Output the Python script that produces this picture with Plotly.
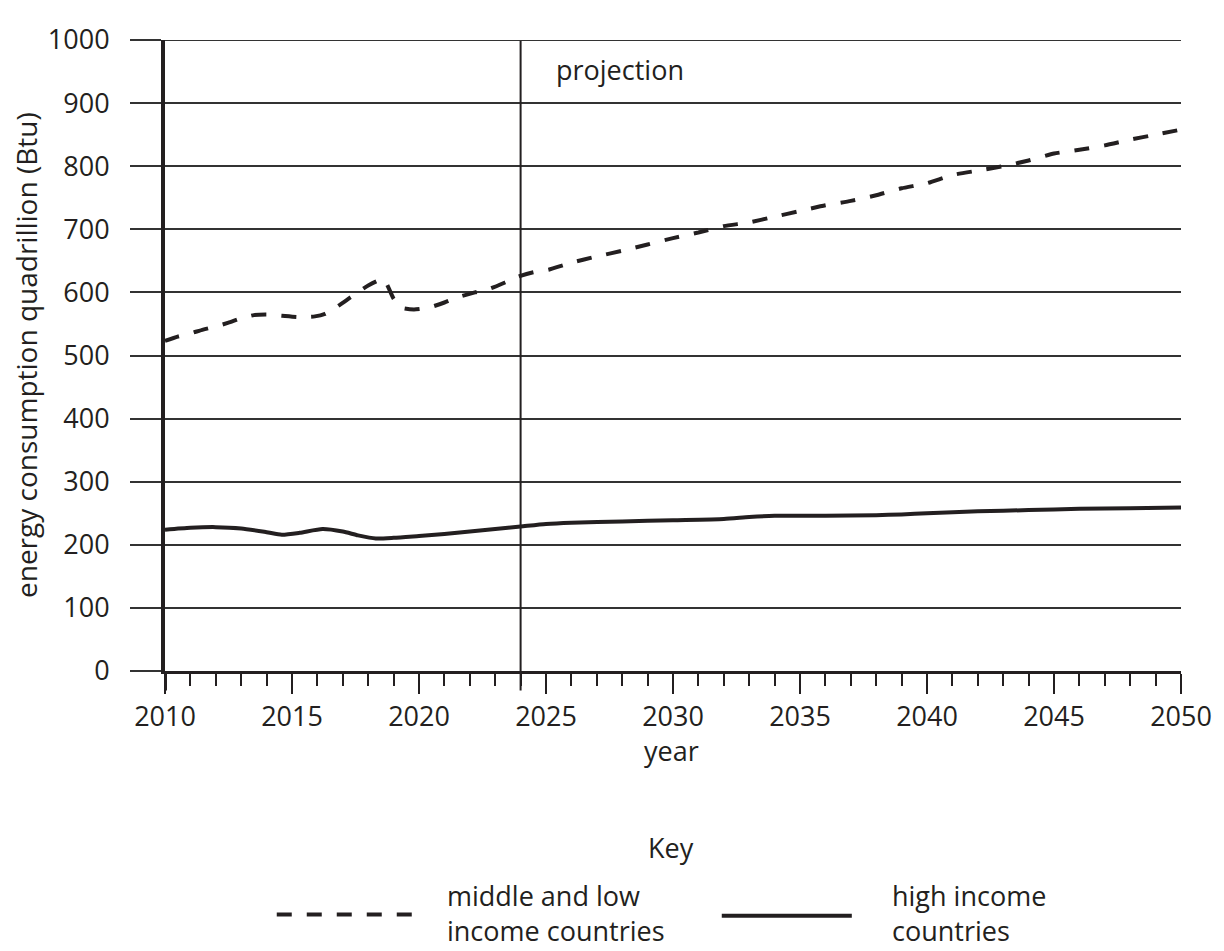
import plotly.graph_objects as go

# ---- data ----
mid_low_years = [2010, 2010.5, 2011, 2011.5, 2012, 2012.5, 2013, 2013.5, 2014, 2014.6,
                 2015.2, 2015.9, 2016.3, 2016.8, 2017.3, 2018.0, 2018.6, 2019.0, 2019.3,
                 2019.8, 2020.4, 2021.0, 2021.5, 2022.2, 2022.8, 2023.4, 2023.9, 2024.5,
                 2025.1, 2026, 2027, 2028, 2029, 2030, 2031, 2032, 2033, 2034, 2035, 2036,
                 2037, 2038, 2039, 2040, 2041, 2042, 2043, 2044, 2045, 2046, 2047, 2048,
                 2049, 2050]
mid_low_values = [523, 530, 535, 541, 546, 552, 559, 564, 565, 563,
                  561, 562, 566, 578, 592, 611, 621, 590, 576,
                  573, 576, 584, 592, 600, 606, 616, 625, 632,
                  636, 647, 657, 666, 676, 686, 695, 705, 711, 720, 729, 738,
                  745, 754, 765, 773, 786, 793, 800, 809, 820, 826, 833, 842,
                  850, 858]

high_years = [2010, 2011, 2012, 2013, 2014, 2014.6, 2015.3, 2016.2, 2017, 2017.6, 2018.3,
              2019, 2020, 2021, 2022, 2023, 2024, 2025, 2026, 2028, 2030, 2032, 2033,
              2034, 2036, 2038, 2039, 2040, 2042, 2044, 2046, 2048, 2050]
high_values = [224, 227, 228, 226, 220, 216, 219, 225, 221, 215, 210,
               211, 214, 217, 221, 225, 229, 233, 235, 237, 239, 241, 244,
               246, 246, 247, 248, 250, 253, 255, 257, 258, 259]

x_ticks = [2010, 2015, 2020, 2025, 2030, 2035, 2040, 2045, 2050]
y_ticks = [0, 100, 200, 300, 400, 500, 600, 700, 800, 900, 1000]
projection_start = 2024

INK = "#231f20"
GRID = "#333333"
FONT = "Open Sans"

fig = go.Figure()
fig.add_trace(go.Scatter(
    x=mid_low_years, y=mid_low_values, mode="lines",
    name="middle and low income countries",
    line=dict(color=INK, width=4, dash="15px,15px", shape="spline", smoothing=0.5),
))
fig.add_trace(go.Scatter(
    x=high_years, y=high_values, mode="lines",
    name="high income countries",
    line=dict(color=INK, width=4, shape="spline", smoothing=0.6),
))

# page body adds an 8px margin, so the figure is 8px smaller and margins shifted
fig.update_layout(
    width=1216, height=943,
    margin=dict(l=157, r=32, t=21, b=280),
    paper_bgcolor="white", plot_bgcolor="white",
    font=dict(family=FONT, size=27, color=INK),
    showlegend=False,
)

fig.update_xaxes(
    range=[2010, 2050], tickmode="array", tickvals=x_ticks,
    ticks="outside", ticklen=20, tickwidth=2, tickcolor=INK,
    ticklabelstandoff=0,
    showgrid=False, zeroline=False,
    showline=True, linewidth=2.5, linecolor=INK,
    minor=dict(dtick=1, tick0=2010, ticks="outside", ticklen=12, tickwidth=2,
               tickcolor=INK, showgrid=False),
)
fig.update_yaxes(
    range=[0, 1000], tickmode="array", tickvals=y_ticks,
    ticks="outside", ticklen=31, tickwidth=2, tickcolor=GRID,
    ticklabelstandoff=15,
    showgrid=True, gridcolor=GRID, gridwidth=2, zeroline=False,
    showline=True, linewidth=4, linecolor=INK,
)

# projection divider and axis extension
fig.add_shape(type="line", xref="x", yref="paper", x0=projection_start, x1=projection_start,
              y0=-0.031, y1=1, line=dict(color=INK, width=2))
fig.add_shape(type="line", xref="x", yref="paper", x0=2010, x1=2010,
              y0=-0.031, y1=0, line=dict(color=INK, width=4))
fig.add_shape(type="line", xref="paper", yref="y", x0=0, x1=1, y0=1000, y1=1000,
              line=dict(color=GRID, width=2))

fig.add_annotation(x=2025.3, y=954, xref="x", yref="y", text="projection",
                   showarrow=False, xanchor="left", yanchor="middle",
                   font=dict(family=FONT, size=27, color=INK))

# axis titles
fig.add_annotation(x=0.4985, y=-0.126, xref="paper", yref="paper", text="year",
                   showarrow=False, xanchor="center", yanchor="middle")
fig.add_annotation(x=-0.1373, y=0.5, xref="paper", yref="paper",
                   text="energy consumption quadrillion (Btu)", textangle=-90,
                   showarrow=False, xanchor="center", yanchor="middle",
                   font=dict(family=FONT, size=28, color=INK))

# key
fig.add_annotation(x=0.4985, y=-0.279, xref="paper", yref="paper", text="Key",
                   showarrow=False, xanchor="center", yanchor="middle")
fig.add_shape(type="line", xref="paper", yref="paper", x0=0.110, x1=0.2512,
              y0=-0.386, y1=-0.386, line=dict(color=INK, width=4, dash="15px,15px"))
fig.add_annotation(x=0.2756, y=-0.384, xref="paper", yref="paper",
                   text="middle and low<br>income countries", align="left",
                   showarrow=False, xanchor="left", yanchor="middle")
fig.add_shape(type="line", xref="paper", yref="paper", x0=0.548, x1=0.676,
              y0=-0.388, y1=-0.388, line=dict(color=INK, width=4))
fig.add_annotation(x=0.7137, y=-0.384, xref="paper", yref="paper",
                   text="high income<br>countries", align="left",
                   showarrow=False, xanchor="left", yanchor="middle")

fig.write_html("out.html")
